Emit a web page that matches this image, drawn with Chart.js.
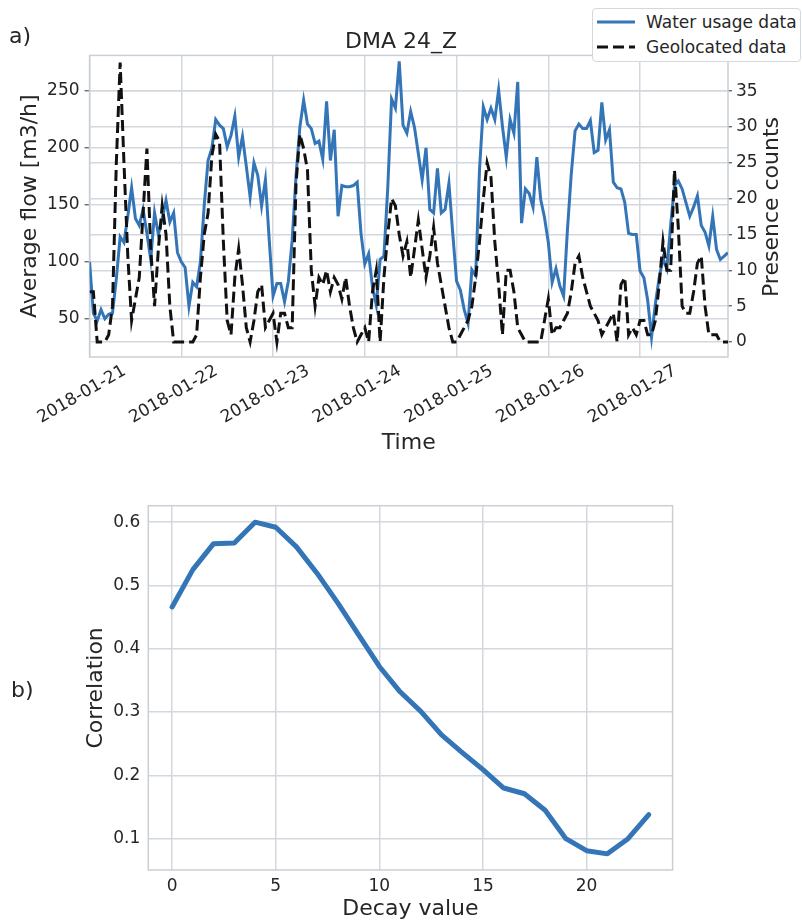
<!DOCTYPE html>
<html>
<head>
<meta charset="utf-8">
<title>DMA 24_Z</title>
<script src="https://cdn.jsdelivr.net/npm/chart.js@4.4.1/dist/chart.umd.min.js"></script>
<style>
  body { margin: 0; background: #fff; font-family: 'DejaVu Sans', sans-serif; color: #262626; }
  #wrap { position: relative; width: 802px; height: 922px; overflow: hidden; }
  #flowChart { position: absolute; left: 0; top: 0; }
  #decayChart { position: absolute; left: 0; top: 470px; }
  .panel { position: absolute; font-size: 22px; line-height: 22px; }
  #legend { position: absolute; left: 592px; top: 8px; width: 207px; height: 52px;
            border: 1px solid #d3d8de; border-radius: 4px; background: #fff; font-size: 17px; }
  #legend .row { position: absolute; left: 0; height: 20px; line-height: 20px; }
  #legend svg { position: absolute; left: 4px; top: 0; }
  #legend span { position: absolute; left: 53px; top: 0; white-space: nowrap; }
</style>
</head>
<body>
<div id="wrap">
  <canvas id="flowChart" width="802" height="460"></canvas>
  <canvas id="decayChart" width="802" height="452"></canvas>
  <div class="panel" style="left:9px; top:25px;">a)</div>
  <div class="panel" style="left:11px; top:679px;">b)</div>
  <div id="legend">
    <div class="row" style="top:3px;">
      <svg width="40" height="20"><line x1="0" y1="10" x2="38" y2="10" stroke="#3475b8" stroke-width="3"/></svg>
      <span>Water usage data</span>
    </div>
    <div class="row" style="top:28px;">
      <svg width="40" height="20"><line x1="0" y1="10" x2="38" y2="10" stroke="#111" stroke-width="3" stroke-dasharray="11,5"/></svg>
      <span>Geolocated data</span>
    </div>
  </div>
</div>
<script>
// hourly values, 2018-01-21 00:00 .. 2018-01-27 23:00
let flow = [
  100, 55, 48, 58, 50, 54, 55, 85, 122, 117, 140, 165, 138, 132, 146, 125, 102, 143, 124, 138, 154, 135, 143, 108,
  100, 95, 61, 82, 78, 100, 150, 189, 200, 225, 220, 217, 201, 211, 228, 192, 210, 184, 157, 187, 176, 149, 172, 119,
  70, 81, 81, 65, 83, 119, 175, 218, 242, 221, 217, 204, 206, 190, 241, 189, 216, 140, 167, 166, 166, 167, 170, 125,
  98, 107, 78, 62, 102, 105, 165, 243, 235, 276, 220, 213, 232, 218, 195, 172, 200, 146, 143, 182, 143, 146, 169, 125,
  83, 75, 58, 46, 93, 88, 181, 236, 225, 235, 225, 251, 219, 192, 225, 213, 258, 134, 164, 160, 148, 192, 155, 139,
  117, 82, 94, 79, 70, 128, 177, 215, 221, 217, 217, 224, 196, 198, 240, 207, 216, 170, 165, 164, 152, 125, 124, 124,
  92, 86, 66, 34, 63, 86, 103, 94, 132, 167, 171, 164, 152, 140, 148, 158, 132, 126, 114, 140, 111, 102, 105, 108
];
let presence = [
  7, 7, 0, 0, 0, 1, 5, 25, 39, 25, 12, 3, 6, 9, 18, 27, 13, 5, 13, 19, 15, 5, 0, 0,
  0, 0, 0, 0, 1, 9, 15, 18, 26, 29, 28, 14, 3, 1, 9, 13, 8, 2, 0, 3, 7, 8, 2, 3,
  4, 0, 4, 4, 2, 2, 22, 29, 27, 24, 10, 5, 9, 8, 10, 7, 9, 8, 6, 9, 5, 2, 0, 1,
  2, 0, 7, 10, 0, 9, 15, 20, 19, 15, 12, 14, 9, 13, 17, 13, 9, 12, 16, 11, 8, 5, 2, 0,
  0, 1, 2, 3, 5, 9, 14, 20, 25, 23, 14, 8, 1, 10, 10, 7, 2, 1, 0, 0, 0, 0, 0, 3,
  6, 1, 2, 2, 3, 4, 7, 11, 12, 9, 7, 5, 4, 3, 1, 2, 3, 4, 0, 8, 9, 1, 2, 1,
  3, 3, 1, 1, 3, 8, 14, 10, 10, 24, 16, 5, 4, 4, 7, 11, 12, 5, 1, 1, 1, 0, 0, 0
];
let dateLabels = ['2018-01-21', '2018-01-22', '2018-01-23', '2018-01-24', '2018-01-25', '2018-01-26', '2018-01-27'];
let dayTicks = [0, 24, 48, 72, 96, 120, 144];
let flowTicks = [50, 100, 150, 200, 250];
let countTicks = [0, 5, 10, 15, 20, 25, 30, 35];

let decay = [0, 1, 2, 3, 4, 5, 6, 7, 8, 9, 10, 11, 12, 13, 14, 15, 16, 17, 18, 19, 20, 21, 22, 23];
let correlation = [0.466, 0.525, 0.566, 0.567, 0.600, 0.592, 0.561, 0.519, 0.472, 0.422, 0.372, 0.332,
  0.301, 0.264, 0.236, 0.209, 0.180, 0.171, 0.145, 0.100, 0.081, 0.076, 0.100, 0.138];
let decayTicks = [0, 5, 10, 15, 20];
let corrTicks = [0.1, 0.2, 0.3, 0.4, 0.5, 0.6];

const blue = '#3475b8';
const gridColor = '#d3d8de';
const textColor = '#262626';

Chart.defaults.font.family = "'DejaVu Sans', sans-serif";
Chart.defaults.color = textColor;

const setTicks = list => scale => { scale.ticks = list.map(v => ({ value: v })); };

const framePlugin = {
  id: 'frame',
  beforeDatasetsDraw(chart) {
    const { ctx, chartArea: a } = chart;
    ctx.save();
    ctx.strokeStyle = '#c9cfd6';
    ctx.lineWidth = 1.5;
    ctx.strokeRect(a.left, a.top, a.right - a.left, a.bottom - a.top);
    ctx.restore();
  }
};

// matplotlib style right label, reads bottom to top
const rightTitle = {
  id: 'rightTitle',
  afterDraw(chart) {
    const ctx = chart.ctx;
    ctx.save();
    ctx.translate(772, 207);
    ctx.rotate(-Math.PI / 2);
    ctx.font = "22px 'DejaVu Sans'";
    ctx.fillStyle = textColor;
    ctx.textAlign = 'center';
    ctx.textBaseline = 'middle';
    ctx.fillText('Presence counts', 0, 0);
    ctx.restore();
  }
};

let flowChart = new Chart(document.getElementById('flowChart'), {
  type: 'line',
  data: {
    datasets: [{
      label: 'Water usage data',
      data: flow.map((v, i) => ({ x: i, y: v })),
      yAxisID: 'yFlow',
      borderColor: blue,
      borderWidth: 3,
      pointRadius: 0,
      order: 1
    }, {
      label: 'Geolocated data',
      data: presence.map((v, i) => ({ x: i, y: v })),
      yAxisID: 'yCount',
      borderColor: '#111',
      borderWidth: 3,
      borderDash: [11, 5],
      pointRadius: 0,
      order: 0
    }]
  },
  options: {
    responsive: false,
    animation: false,
    layout: { padding: 0, autoPadding: false },
    plugins: {
      legend: { display: false },
      tooltip: { enabled: false },
      title: {
        display: true,
        text: 'DMA 24_Z',
        color: textColor,
        font: { size: 22, weight: 'normal', lineHeight: 1.2 },
        padding: { top: 29, bottom: 0 }
      }
    },
    scales: {
      x: {
        type: 'linear',
        min: 0,
        max: 167,
        afterBuildTicks: setTicks(dayTicks),
        afterFit: s => { s.height = 103; },
        border: { display: false },
        grid: { color: gridColor, lineWidth: 1.5, drawTicks: false },
        ticks: {
          autoSkip: false,
          minRotation: 30,
          maxRotation: 30,
          labelOffset: 35,
          padding: 4,
          font: { size: 17 },
          callback: (v, i) => dateLabels[i]
        },
        title: { display: true, text: 'Time', font: { size: 22 }, padding: { top: 0, bottom: 4 } }
      },
      yFlow: {
        position: 'left',
        min: 16.4,
        max: 281.3,
        afterBuildTicks: setTicks(flowTicks),
        afterFit: s => { s.width = 81; },
        border: { display: false },
        grid: { color: gridColor, lineWidth: 1.5, tickColor: '#555', tickLength: 5, tickWidth: 1.2 },
        ticks: { padding: 5, font: { size: 17 } },
        title: { display: true, text: 'Average flow [m3/h]', font: { size: 22 }, padding: { top: 9, bottom: 0 } }
      },
      yCount: {
        position: 'right',
        min: -2.1,
        max: 40,
        afterBuildTicks: setTicks(countTicks),
        afterFit: s => { s.width = 74; },
        border: { display: false },
        grid: { color: gridColor, lineWidth: 1.5, tickColor: '#555', tickLength: 4, tickWidth: 1.2 },
        ticks: { padding: 4, font: { size: 17 } }
      }
    }
  },
  plugins: [framePlugin, rightTitle]
});

let decayChart = new Chart(document.getElementById('decayChart'), {
  type: 'line',
  data: {
    datasets: [{
      label: 'Correlation',
      data: decay.map((d, i) => ({ x: d, y: correlation[i] })),
      borderColor: blue,
      borderWidth: 5,
      borderCapStyle: 'round',
      borderJoinStyle: 'round',
      pointRadius: 0
    }]
  },
  options: {
    responsive: false,
    animation: false,
    layout: { padding: { top: 35.7, right: 129.4, left: 0, bottom: 0 }, autoPadding: false },
    plugins: { legend: { display: false }, tooltip: { enabled: false } },
    scales: {
      x: {
        type: 'linear',
        min: -1.15,
        max: 24.15,
        afterBuildTicks: setTicks(decayTicks),
        afterFit: s => { s.height = 52; },
        border: { display: false },
        grid: { color: gridColor, lineWidth: 1.5, drawTicks: false },
        ticks: { padding: 6, font: { size: 17 } },
        title: { display: true, text: 'Decay value', font: { size: 22 }, padding: { top: 0, bottom: 0 } }
      },
      y: {
        min: 0.0505,
        max: 0.626,
        afterBuildTicks: setTicks(corrTicks),
        afterFit: s => { s.width = 148.3; },
        border: { display: false },
        grid: { color: gridColor, lineWidth: 1.5, drawTicks: false },
        ticks: { padding: 8, font: { size: 17 }, callback: v => v.toFixed(1) },
        title: { display: true, text: 'Correlation', font: { size: 22 }, padding: { top: 82.8, bottom: 0 } }
      }
    }
  },
  plugins: [framePlugin]
});
</script>
</body>
</html>
